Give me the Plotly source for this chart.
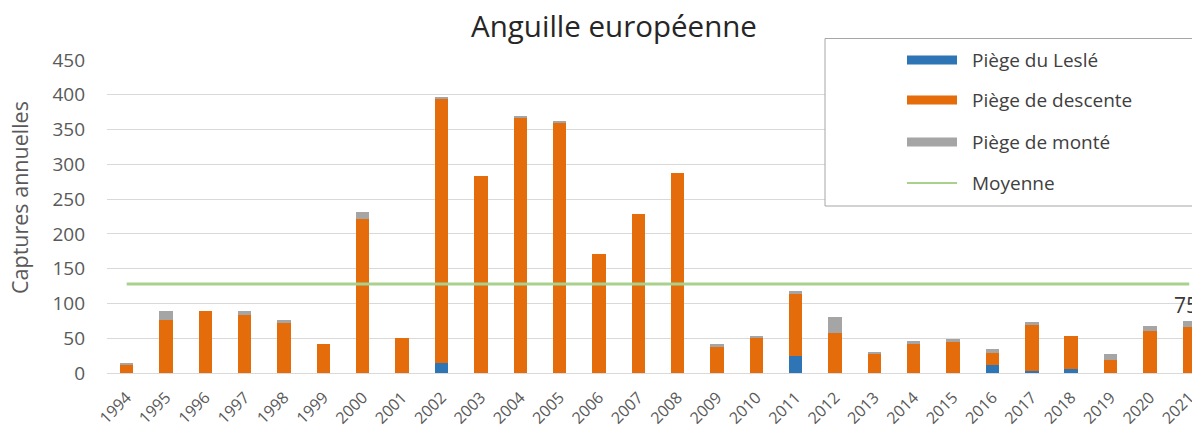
import plotly.graph_objects as go

# ---------------- data ----------------
years = [str(y) for y in range(1994, 2022)]
piege_lesle = [0, 0, 0, 0, 0, 0, 0, 0, 14, 0, 0, 0, 0, 0, 0, 0, 0, 25, 0, 0, 0, 0, 11, 3, 6, 0, 0, 0]
piege_descente = [12, 76, 89, 84, 72, 41, 222, 51, 380, 283, 367, 360, 171, 228, 288, 38, 50, 88, 57, 27, 41, 44, 18, 66, 47, 18, 61, 66]
piege_monte = [3, 13, 0, 5, 4, 0, 9, 0, 2, 0, 3, 3, 0, 0, 0, 4, 3, 5, 24, 3, 5, 5, 5, 5, 0, 10, 7, 9]
moyenne = [128] * len(years)
label_2021 = "75"
label_2021_value = 75

series_names = ["Piège du Leslé", "Piège de descente", "Piège de monté", "Moyenne"]
y_ticks = list(range(0, 451, 50))

# ---------------- style ----------------
FONT = "Open Sans"
C_BLUE = "#2E75B6"
C_ORANGE = "#E46C0A"
C_GRAY = "#A5A5A5"
C_GREEN = "#A9D18E"
W, H = 1192, 428
ML, MR, MT, MB = 107, 0, 60, 55
PW, PH = W - ML - MR, H - MT - MB


def px_x(px):
    return (px - ML) / PW


def px_y(py):
    return (H - MB - py) / PH


fig = go.Figure()
fig.add_bar(x=years, y=piege_lesle, name=series_names[0], marker_color=C_BLUE, marker_line_width=0)
fig.add_bar(x=years, y=piege_descente, name=series_names[1], marker_color=C_ORANGE, marker_line_width=0)
fig.add_bar(x=years, y=piege_monte, name=series_names[2], marker_color=C_GRAY, marker_line_width=0)
fig.add_scatter(x=years, y=moyenne, name=series_names[3], mode="lines",
                line=dict(color=C_GREEN, width=3))

for tr in fig.data:
    tr.showlegend = False

# data label on last bar (category index of the last year)
fig.add_annotation(x=len(years) - 1, y=label_2021_value, text=label_2021, showarrow=False,
                   yanchor="bottom", xanchor="center", xshift=-3, yshift=0,
                   font=dict(family=FONT, size=21, color="#3A3A3A"))

# y-axis title
fig.add_annotation(xref="paper", yref="paper", x=px_x(20), y=px_y(198), text="Captures annuelles",
                   textangle=-90, showarrow=False, xanchor="center", yanchor="middle",
                   font=dict(family=FONT, size=21.5, color="#595959"))

# custom legend
shapes = [dict(type="rect", xref="paper", yref="paper", x0=px_x(825), x1=px_x(1210),
               y0=px_y(206), y1=px_y(38.5), line=dict(color="#A6A6A6", width=1),
               fillcolor="white", layer="above")]
rows_y = [60, 100, 142, 183]
sym_colors = [C_BLUE, C_ORANGE, C_GRAY]
for i, ry in enumerate(rows_y):
    if i < 3:
        shapes.append(dict(type="rect", xref="paper", yref="paper", x0=px_x(907), x1=px_x(957),
                           y0=px_y(ry + 4.5), y1=px_y(ry - 4.5), line=dict(width=0),
                           fillcolor=sym_colors[i], layer="above"))
    else:
        shapes.append(dict(type="line", xref="paper", yref="paper", x0=px_x(907), x1=px_x(957),
                           y0=px_y(ry), y1=px_y(ry), line=dict(color=C_GREEN, width=2),
                           layer="above"))
    fig.add_annotation(xref="paper", yref="paper", x=px_x(970), y=px_y(ry), text=series_names[i],
                       showarrow=False, xanchor="left", yanchor="middle",
                       font=dict(family=FONT, size=19, color="#404040"))

fig.update_layout(
    width=W, height=H,
    margin=dict(l=ML, r=MR, t=MT, b=MB, autoexpand=False),
    paper_bgcolor="white", plot_bgcolor="white",
    barmode="stack", bargap=0.66,
    shapes=shapes,
    title=dict(text="Anguille européenne", x=614 / W, xanchor="center", xref="container",
               yref="container", y=1 - 27 / H, yanchor="middle",
               font=dict(family=FONT, size=29.5, color="#262626")),
    font=dict(family=FONT, color="#595959"),
    xaxis=dict(type="category", range=[-0.5, 27.07], tickangle=-45, showgrid=False,
               showline=True, linecolor="#D9D9D9", linewidth=1, ticks="", automargin=False,
               tickfont=dict(family=FONT, size=16, color="#595959"), ticklabelstandoff=8),
    yaxis=dict(range=[0, 450], tickvals=y_ticks, showgrid=True, gridcolor="#D9D9D9", gridwidth=1,
               zeroline=False, showline=False, ticks="", automargin=False,
               tickfont=dict(family=FONT, size=19, color="#595959"), ticklabelstandoff=21),
)

fig.write_html("out.html", config={"displayModeBar": False},
               post_script="document.body.style.margin='0';document.body.style.overflow='hidden';")
